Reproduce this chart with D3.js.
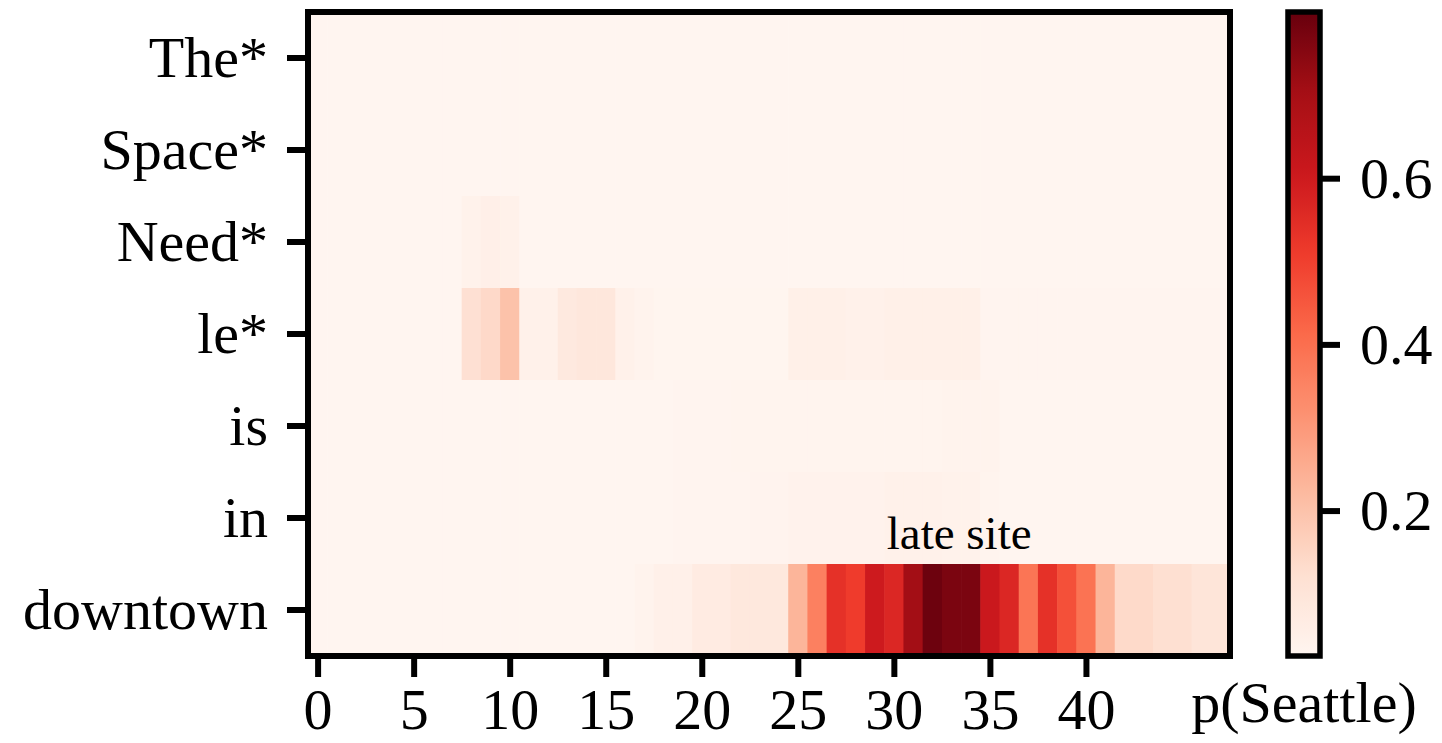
<!DOCTYPE html>
<html>
<head>
<meta charset="utf-8">
<script src="https://cdn.jsdelivr.net/npm/d3@7"></script>
<style>
  body { margin: 0; background: #fff; }
  text { font-family: "Liberation Serif", "Times New Roman", serif; fill: #000; }
</style>
</head>
<body>
<svg id="heatmap"></svg>
<script>
// Tokens (rows), top to bottom
const tokens = ["The*", "Space*", "Need*", "le*", "is", "in", "downtown"];

// p(Seattle) per token and position 0..47
const rowThe = [
  0.026,0.026,0.026,0.026,0.026,0.026,0.026,0.026,0.026,0.026,0.026,0.026,0.026,0.026,0.026,0.026,
  0.026,0.026,0.026,0.026,0.026,0.026,0.026,0.026,0.026,0.026,0.026,0.026,0.026,0.026,0.026,0.026,
  0.026,0.026,0.026,0.026,0.026,0.026,0.026,0.026,0.026,0.026,0.026,0.026,0.026,0.026,0.026,0.026
];
const rowSpace = [
  0.026,0.026,0.026,0.026,0.026,0.026,0.026,0.026,0.026,0.026,0.026,0.026,0.026,0.026,0.026,0.026,
  0.026,0.026,0.026,0.026,0.026,0.026,0.026,0.026,0.026,0.026,0.026,0.026,0.026,0.026,0.026,0.026,
  0.026,0.026,0.026,0.026,0.026,0.026,0.026,0.026,0.026,0.026,0.026,0.026,0.026,0.026,0.026,0.026
];
const rowNeed = [
  0.026,0.026,0.026,0.026,0.026,0.026,0.026,0.026,0.040,0.052,0.044,0.026,0.026,0.026,0.026,0.026,
  0.026,0.026,0.026,0.026,0.026,0.026,0.026,0.026,0.026,0.026,0.026,0.026,0.026,0.026,0.026,0.026,
  0.026,0.026,0.026,0.026,0.026,0.026,0.026,0.026,0.026,0.026,0.026,0.026,0.026,0.026,0.026,0.026
];
const rowLe = [
  0.026,0.026,0.026,0.026,0.026,0.026,0.026,0.026,0.120,0.140,0.200,0.045,0.045,0.080,0.090,0.090,
  0.045,0.035,0.027,0.027,0.027,0.027,0.027,0.027,0.027,0.050,0.050,0.050,0.045,0.045,0.050,0.050,
  0.050,0.050,0.050,0.028,0.028,0.028,0.028,0.028,0.028,0.028,0.028,0.028,0.028,0.028,0.028,0.028
];
const rowIs = [
  0.026,0.026,0.026,0.026,0.026,0.026,0.026,0.026,0.026,0.026,0.026,0.026,0.026,0.026,0.026,0.026,
  0.026,0.026,0.026,0.028,0.028,0.028,0.030,0.030,0.030,0.030,0.030,0.030,0.030,0.030,0.030,0.030,
  0.030,0.034,0.034,0.034,0.026,0.026,0.026,0.026,0.026,0.026,0.026,0.026,0.026,0.026,0.026,0.026
];
const rowIn = [
  0.026,0.026,0.026,0.026,0.026,0.026,0.026,0.026,0.026,0.026,0.026,0.026,0.026,0.026,0.026,0.026,
  0.026,0.026,0.026,0.028,0.028,0.028,0.028,0.032,0.032,0.038,0.038,0.038,0.038,0.038,0.045,0.045,
  0.045,0.040,0.040,0.030,0.026,0.026,0.026,0.026,0.026,0.026,0.026,0.026,0.026,0.026,0.026,0.026
];
const rowDowntown = [
  0.026,0.026,0.026,0.026,0.026,0.026,0.026,0.026,0.026,0.026,0.026,0.026,0.026,0.026,0.026,0.026,
  0.026,0.035,0.048,0.048,0.071,0.071,0.085,0.085,0.085,0.234,0.360,0.537,0.509,0.602,0.564,0.707,
  0.790,0.768,0.768,0.610,0.564,0.385,0.537,0.467,0.390,0.234,0.137,0.137,0.122,0.122,0.099,0.099
];

const rows = [rowThe, rowSpace, rowNeed, rowLe, rowIs, rowIn, rowDowntown];

// Axis ticks
const xTicks = [0, 5, 10, 15, 20, 25, 30, 35, 40];
const cbarTicks = [0.2, 0.4, 0.6];

// Colour limits (from the colorbar)
const vmin = 0.025;
const vmax = 0.80;

// Annotation
const noteText = "late site";
const noteCol = 33.4;
const noteRow = "downtown";

const nCols = rows[0].length;

// Flatten into cells
const cells = [];
rows.forEach((vals, r) => {
    vals.forEach((v, c) => cells.push({ token: tokens[r], col: c, value: v }));
});

// Layout
const W = 1442, H = 743;
const plot = { left: 308, right: 1230, top: 12, bottom: 656 };
const cbar = { left: 1288, right: 1320, top: 12, bottom: 656 };
const fontSize = 58;

const svg = d3.select("#heatmap")
    .attr("width", W)
    .attr("height", H);

// Scales
const xScale = d3.scaleLinear()
    .domain([-0.5, nCols - 0.5])
    .range([plot.left, plot.right]);

const yScale = d3.scaleBand()
    .domain(tokens)
    .range([plot.top, plot.bottom])
    .padding(0);

// matplotlib "Reds": linear between the 9 anchor colours
const colorScale = d3.scaleLinear()
    .domain(d3.range(9).map(i => vmin + i * (vmax - vmin) / 8))
    .range(d3.schemeReds[9])
    .interpolate(d3.interpolateRgb)
    .clamp(true);

// Heatmap cells
svg.append("g")
    .selectAll("rect")
    .data(cells)
    .enter()
    .append("rect")
    .attr("x", d => xScale(d.col - 0.5))
    .attr("y", d => yScale(d.token))
    .attr("width", xScale(1) - xScale(0) + 0.6)
    .attr("height", yScale.bandwidth() + 0.6)
    .attr("fill", d => colorScale(d.value));

// Frame
svg.append("rect")
    .attr("x", plot.left)
    .attr("y", plot.top)
    .attr("width", plot.right - plot.left)
    .attr("height", plot.bottom - plot.top)
    .attr("fill", "none")
    .attr("stroke", "#000")
    .attr("stroke-width", 6);

// X axis
const xAxis = svg.append("g")
    .attr("transform", `translate(0, ${plot.bottom + 3})`)
    .call(d3.axisBottom(xScale).tickValues(xTicks).tickSize(18).tickPadding(11));

// Y axis
const yAxis = svg.append("g")
    .attr("transform", `translate(${plot.left - 3}, 0)`)
    .call(d3.axisLeft(yScale).tickSize(18).tickPadding(19));

[xAxis, yAxis].forEach(ax => {
    ax.select(".domain").remove();
    ax.selectAll(".tick line").attr("stroke", "#000").attr("stroke-width", 6);
    ax.selectAll(".tick text")
        .style("font-size", fontSize + "px")
        .style("font-family", "'Liberation Serif', serif")
        .attr("fill", "#000");
});
yAxis.selectAll(".tick text").attr("dy", "0.33em");

// Annotation above the downtown row
svg.append("text")
    .attr("x", xScale(noteCol))
    .attr("y", yScale(noteRow) - 15)
    .attr("text-anchor", "middle")
    .style("font-size", "47px")
    .text(noteText);

// Colorbar
const cScale = d3.scaleLinear()
    .domain([vmin, vmax])
    .range([cbar.bottom, cbar.top]);

const grad = svg.append("defs")
    .append("linearGradient")
    .attr("id", "cbar-grad")
    .attr("x1", 0).attr("y1", 1)
    .attr("x2", 0).attr("y2", 0);

grad.selectAll("stop")
    .data(d3.range(0, 1.0001, 0.02))
    .enter()
    .append("stop")
    .attr("offset", d => d)
    .attr("stop-color", d => colorScale(vmin + d * (vmax - vmin)));

svg.append("rect")
    .attr("x", cbar.left)
    .attr("y", cbar.top)
    .attr("width", cbar.right - cbar.left)
    .attr("height", cbar.bottom - cbar.top)
    .attr("fill", "url(#cbar-grad)")
    .attr("stroke", "#000")
    .attr("stroke-width", 5.5);

const cAxis = svg.append("g")
    .attr("transform", `translate(${cbar.right + 2}, 0)`)
    .call(d3.axisRight(cScale).tickValues(cbarTicks).tickFormat(d3.format(".1f")).tickSize(18).tickPadding(20));

cAxis.select(".domain").remove();
cAxis.selectAll(".tick line").attr("stroke", "#000").attr("stroke-width", 6);
cAxis.selectAll(".tick text")
    .style("font-size", fontSize + "px")
    .style("font-family", "'Liberation Serif', serif")
    .attr("fill", "#000")
    .attr("dy", "0.33em");

// Colorbar label below it
svg.append("text")
    .attr("x", (cbar.left + cbar.right) / 2)
    .attr("y", 722)
    .attr("text-anchor", "middle")
    .style("font-size", fontSize + "px")
    .text("p(Seattle)");
</script>
</body>
</html>
